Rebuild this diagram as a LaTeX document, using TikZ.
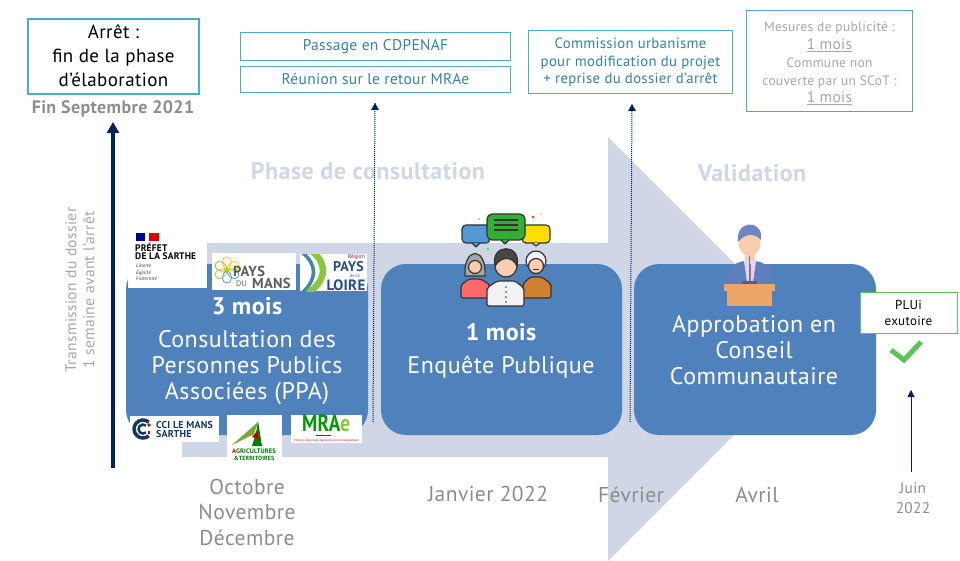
\documentclass[tikz,border=0pt]{standalone}
\usepackage{fontspec}
\setmainfont[LetterSpace=2]{PT Sans}
\usetikzlibrary{arrows.meta}
\definecolor{blueb}{HTML}{4F81BD}
\definecolor{pale}{HTML}{CFD7E6}
\definecolor{tealb}{HTML}{4BACC6}
\definecolor{tealt}{HTML}{31859C}
\definecolor{navy}{HTML}{002060}
\definecolor{gr}{HTML}{A6A6A6}
\definecolor{grd}{HTML}{8C8C8C}
\definecolor{grn}{HTML}{5CC25C}
\definecolor{dk}{HTML}{333333}
\definecolor{lgreen}{HTML}{8CC63F}
\definecolor{rnavy}{HTML}{1F4E8C}
\definecolor{pod}{HTML}{EDA56A}
\definecolor{skin}{HTML}{F8CDB0}
\definecolor{suit}{HTML}{5F7FBA}
\definecolor{hairb}{HTML}{6F87BD}
\newcommand{\fs}[2]{\fontsize{#1}{#2}\selectfont}
\tikzset{
 x=1pt,y=-1pt,
 phasebox/.style={rounded corners=25pt,fill=blueb,draw=none},
 whitetxt/.style={text=white,align=center,inner sep=0},
 topbox/.style={draw=tealb,line width=1pt,fill=white,text=tealt,align=center,inner sep=0},
 datelbl/.style={text=grd,align=center,inner sep=0},
 logo/.style={fill=white,draw=none},
 lg/.style={inner sep=0,anchor=west},
 dots/.style={navy,line width=1pt,dash pattern=on 1pt off 1pt},
 ic/.style={draw=dk,line width=1.2pt,line join=round},
}
\begin{document}
\begin{tikzpicture}
\useasboundingbox (0,0) rectangle (960,561);
% big arrow
\fill[pale] (182,243) -- (608,243) -- (608,137) -- (820,349) -- (608,561) -- (608,457) -- (182,457) -- cycle;
% headings
\node[text=pale,inner sep=0,font=\fs{24}{28}\bfseries] (phase) at (368,171) {Phase de consultation};
\node[text=pale,inner sep=0,font=\fs{24}{28}\bfseries] (valid) at (752,173) {Validation};
% phase boxes
\fill[phasebox] (126,264) rectangle (368,435);
\fill[phasebox] (381,264) rectangle (622,435);
\fill[phasebox] (634,264) rectangle (876,435);
% logo backgrounds
\fill[logo] (128,230) rectangle (207,288);
\fill[logo] (212,253) rectangle (296,290);
\fill[logo] (300,254) rectangle (367,291);
\fill[logo] (130,416) rectangle (219,442);
\fill[logo] (227,415) rectangle (282,461);
\fill[logo] (291,415) rectangle (362,443);
% prefet
\fill[blue!55!black] (136,233) rectangle (145,241);
\fill[red!85!black] (149,233) rectangle (159,241);
\node[lg,font=\fs{9.500}{10}\bfseries,text=black] (pf1) at (135,247.500) {PRÉFET};
\node[lg,font=\fs{9.500}{10}\bfseries,text=black] (pf2) at (135,256.500) {DE LA SARTHE};
\node[lg,font=\fs{5}{6.300}\itshape,text=dk,align=left] (pf3) at (136,272.500) {Liberté\\Égalité\\Fraternité};
% pays du mans
\foreach \a/\c in {-90/tealb,-30/tealb,30/yellow!70!orange,90/yellow!70!orange,150/lgreen,210/orange!70}{
 \draw[\c,line width=.9pt,shift={(227,270)},rotate=\a] (0,0) .. controls (5,-7) and (13,-5) .. (13,0) .. controls (13,5) and (5,7) .. (0,0);
}
\node[lg,font=\fs{14.500}{15}\bfseries,text=dk!80] (pm1) at (233,271) {PAYS};
\node[lg,font=\fs{14.500}{15}\bfseries,text=dk!80] (pm3) at (252,283) {MANS};
\node[lg,font=\fs{8}{8},text=dk!80] (pm2) at (236,284) {DU};
% region
\begin{scope}
\clip (300,254) rectangle (367,291);
\draw[tealb!80!black,line width=3.500pt] (303,253) .. controls (317,265) and (317,279) .. (303,292);
\draw[lgreen,line width=6.500pt] (313,252) .. controls (327,264) and (327,280) .. (308,293);
\end{scope}
\node[lg,font=\fs{5.5}{6},text=purple!70!black,anchor=east] (rg1) at (365,257) {Région};
\node[inner sep=0,font=\fs{14}{15}\bfseries,text=rnavy] (rg2) at (348.500,267) {PAYS};
\node[inner sep=0,font=\fs{4.5}{5},text=rnavy] (rg3) at (355,276) {de la};
\node[inner sep=0,font=\fs{15}{16}\bfseries,text=rnavy] (rg4) at (346,285.500) {LOIRE};
% cci
\draw[rnavy!70!black,line width=3.500pt] (148.800,422.100) arc (-50:-310:9);
\draw[rnavy!70!black,line width=2.500pt] (145.900,425.600) arc (-50:-310:4.500);
\fill[red!80!black] (149,425) circle (1.800pt);
\fill[red!80!black] (148,431) rectangle (150,434);
\node[lg,font=\fs{10}{10}\bfseries,text=rnavy!70!black] (cc1) at (156,425) {CCI LE MANS};
\node[lg,font=\fs{10}{10}\bfseries,text=rnavy!70!black] (cc2) at (156,434) {SARTHE};
% agriculture
\fill[lgreen!85!black] (232,445) -- (258,422) -- (254,434) -- cycle;
\fill[green!50!black] (258,421) -- (262,446) -- (252,446) -- (256,433) -- cycle;
\fill[red!75!black] (252,437) -- (257,431) -- (259,439) -- cycle;
\node[inner sep=0,font=\fs{6.5}{7}\bfseries,text=green!45!black] (ag1) at (254,451) {{\color{red!75!black}A}GRICULTURES};
\node[inner sep=0,font=\fs{6}{7}\bfseries,text=green!45!black] (ag2) at (254,458) {\&TERRITOIRES};
% mrae
\node[inner sep=0,font=\fs{19}{20}\bfseries,text=green!60!black,yscale=1.25] (mr) at (326,423) {MRA{\color{lgreen}e}};
\draw[red!80!black,line width=.8pt] (316,435.500) -- (331,435.500);
\node[inner sep=0,font=\fs{3.100}{4},text=red!80!black] (mr2) at (326.500,441) {Mission régionale d'autorité environnementale};
% phase texts
\node[whitetxt,font=\fs{24}{26}\bfseries] (t1a) at (247,306) {3 mois};
\node[whitetxt,font=\fs{24}{26}] (t1b) at (247,368) {Consultation des\\Personnes Publics\\Associées (PPA)};
\node[whitetxt,font=\fs{24}{26}\bfseries] (t2a) at (501,332) {1 mois};
\node[whitetxt,font=\fs{24}{26}] (t2b) at (501,367) {Enquête Publique};
\node[whitetxt,font=\fs{24}{26}] (t3) at (754,350) {Approbation en\\Conseil\\Communautaire};
% persons icon
\begin{scope}[ic]
\draw[fill=cyan!60!blue!70,rounded corners=4pt] (462,225) rectangle (490,243);
\draw[fill=cyan!60!blue!70] (472,243) -- (476,247) -- (480,243);
\draw[fill=yellow!80!orange,rounded corners=4pt] (522,225) rectangle (550,243);
\draw[fill=yellow!80!orange] (532,243) -- (536,246) -- (540,243);
\draw[fill=green!60!black!80,rounded corners=5pt] (487,214) rectangle (525,240);
\draw[fill=green!60!black!80] (501,240) -- (505,244) -- (509,240);
\draw (494,220) -- (518,220) (494,225) -- (518,225) (494,230) -- (518,230);
\draw[fill=red!45!pink,rounded corners=2pt] (461,298) -- (461,285) -- (469,279) -- (481,279) -- (490,285) -- (490,298) -- cycle;
\draw[fill=gray!70] (465,276) .. controls (463,246) and (487,246) .. (485,276) -- cycle;
\draw[fill=skin] (475,267) circle (6.500);
\draw[fill=brown!75!orange,rounded corners=2pt] (523,298) -- (523,284) -- (530,277) -- (542,277) -- (551,284) -- (551,298) -- cycle;
\draw[fill=white!90!gray] (536,261) circle (10);
\draw[fill=skin] (536,266) circle (7.500);
\draw[fill=white!90!gray,rounded corners=2pt] (487,306) -- (487,288) -- (497,281) -- (515,281) -- (524,288) -- (524,306) -- cycle;
\draw[fill=skin] (506,266) circle (11);
\draw[fill=dk!90] (495,266) .. controls (490,243) and (522,243) .. (517,266) .. controls (512,255) and (500,257) .. (495,266) -- cycle;
\end{scope}
\fill[dk] (533,268.500) rectangle (539,270);
\foreach \yy in {287,292,297,302}{\fill[dk] (506,\yy) circle (.8);}
\fill[cyan!70] (479,219) circle (1);
\fill[red!80] (533,217) circle (1.500);
\fill[yellow!80!orange] (541,214) circle (.9);
\fill[green!70] (488,249) circle (1.700);
% speaker icon
\fill[suit,rounded corners=4pt] (728,285) -- (728,268) -- (741,261) -- (759,261) -- (771,268) -- (771,285) -- cycle;
\fill[white!85!blue] (744,261) -- (756,261) -- (753,282) -- (747,282) -- cycle;
\draw[red!70,line width=1pt] (750,264) -- (750,282);
\fill[skin] (745,250) rectangle (755,261);
\fill[skin] (749.500,243) ellipse (11 and 13);
\fill[hairb] (738,242) .. controls (735,219) and (764,219) .. (761,240) .. controls (755,233) and (745,233) .. (738,242) -- cycle;
\draw[navy!60,line width=1.500pt] (749.500,256) -- (749.500,282);
\fill[navy!70] (742,281) rectangle (757,284);
\fill[pod] (724,284) rectangle (775,291);
\fill[pod] (727,291) rectangle (772,306);
% top boxes
\node[draw=tealb,line width=2.500pt,fill=white,minimum width=171pt,minimum height=75pt,inner sep=0] (arret) at (113.500,56.500) {};
\node[align=center,inner sep=0,text=black,font=\fs{19}{24}] (arrett) at (113.500,55.500) {Arrêt :\\fin de la phase\\d'élaboration};
\node[inner sep=0,text=gr!85!black,font=\fs{18}{20}\bfseries] (fin) at (113,109) {Fin Septembre 2021};
\node[topbox,minimum width=270pt,minimum height=28pt,font=\fs{15.5}{17}] (b1) at (375.500,46.500) {Passage en CDPENAF};
\node[topbox,minimum width=270pt,minimum height=26pt,font=\fs{15.5}{17}] (b2) at (375.500,79.500) {Réunion sur le retour MRAe};
\node[topbox,minimum width=204pt,minimum height=63pt] (b3) at (630.500,62) {};
\node[align=center,inner sep=0,text=tealt,font=\fs{14.800}{17.500}] (b3t) at (630.500,62.500) {Commission urbanisme\\pour modification du projet\\+ reprise du dossier d'arrêt};
\node[topbox,minimum width=166pt,minimum height=101pt] (b4) at (829.500,61) {};
\node[align=center,inner sep=0,text=gr,font=\fs{13.500}{17.800}] (b4t) at (829.500,63.500) {Mesures de publicité :\\{\fs{15.5}{17.8}\underline{1 mois}}\\Commune non\\couverte par un SCoT :\\{\fs{15.5}{17.8}\underline{1 mois}}};
% arrows
\coordinate (a1s) at (113,468);
\coordinate (a1e) at (113,122);
\draw[navy,line width=3.500pt,-{Triangle[length=11pt,width=12pt]}] (a1s) -- (a1e);
\coordinate (d1s) at (373,422);
\coordinate (d1e) at (375,103);
\draw[dots] (d1s) -- (d1e);
\fill[navy] (375,103) -- (371,110) -- (379,110) -- cycle;
\coordinate (d2s) at (630,422);
\coordinate (d2e) at (632,104);
\draw[dots] (d2s) -- (d2e);
\fill[navy] (632,104) -- (628,111) -- (636,111) -- cycle;
% transmission
\node[rotate=90,text=gr,align=center,inner sep=0,font=\fs{15.600}{18}] (tr) at (80,290) {Transmission du dossier\\1 semaine avant l'arrêt};
% dates
\node[datelbl,font=\fs{21.500}{25.500}] (d1) at (247,512) {Octobre\\Novembre\\Décembre};
\node[datelbl,font=\fs{21.500}{25}] (d2) at (488,494) {Janvier 2022};
\node[datelbl,font=\fs{21.500}{25}] (d3) at (631,495) {Février};
\node[datelbl,font=\fs{21.500}{25}] (d4) at (757,495) {Avril};
\node[datelbl,font=\fs{15.400}{19.500}] (d5) at (913,498) {Juin\\2022};
% plui
\node[draw=grn,line width=1pt,fill=white,minimum width=97pt,minimum height=41pt,align=center,inner sep=0,text=black,font=\fs{13}{16}] (plui) at (908.500,312.500) {PLUi\\exutoire};
\draw[grn,line width=5pt] (891,350) -- (904,360) -- (921,342);
\coordinate (a5s) at (911,472);
\coordinate (a5e) at (911,390);
\draw[navy,line width=1pt,-{Triangle[length=7pt,width=7pt]}] (a5s) -- (a5e);
\end{tikzpicture}
\end{document}
